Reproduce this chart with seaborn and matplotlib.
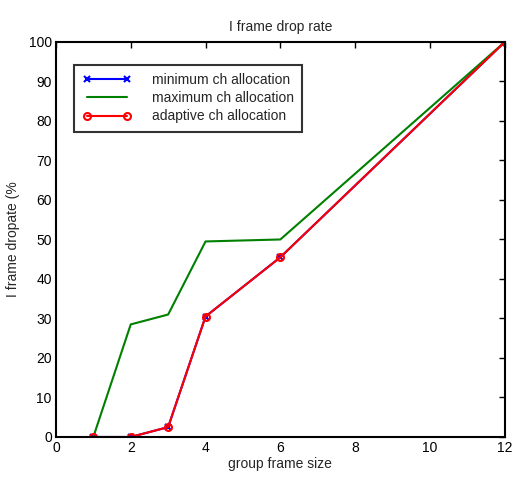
import pandas as pd
import matplotlib
matplotlib.use("Agg")
import matplotlib.pyplot as plt
import seaborn as sns

frame_size = [1, 2, 3, 4, 6, 12]
min_alloc = [0, 0, 2.5, 30.5, 45.5, 100]
max_alloc = [0, 28.5, 31, 49.5, 50, 100]
adaptive_alloc = [0, 0, 2.5, 30.5, 45.5, 100]

sns.set_style("white")
plt.rcParams["font.family"] = ["Liberation Sans", "DejaVu Sans"]

fig = plt.figure(figsize=(5.13, 4.8), dpi=100)
ax = fig.add_axes([0.109, 0.0896, 0.875, 0.823])

df_min = pd.DataFrame({"x": frame_size, "y": min_alloc})
df_max = pd.DataFrame({"x": frame_size, "y": max_alloc})
df_ad = pd.DataFrame({"x": frame_size, "y": adaptive_alloc})

sns.lineplot(data=df_min, x="x", y="y", ax=ax, color="blue", marker="x",
             markersize=4, markeredgewidth=1.5, markeredgecolor="blue",
             linewidth=1.5, label="minimum ch allocation")
sns.lineplot(data=df_max, x="x", y="y", ax=ax, color="green", linewidth=1.5,
             label="maximum ch allocation")
sns.lineplot(data=df_ad, x="x", y="y", ax=ax, color="red", marker="o",
             markersize=5, markerfacecolor="none", markeredgecolor="red",
             markeredgewidth=1.5, linewidth=1.5,
             label="adaptive ch allocation")

ax.set_xlim(0, 12)
ax.set_ylim(0, 100)
ax.set_xticks(range(0, 13, 2))
ax.set_yticks(range(0, 101, 10))
ax.tick_params(direction="in", length=4, width=1, top=True, right=True,
               labelsize=10, colors="black", pad=3)
for s in ax.spines.values():
    s.set_color("black")
    s.set_linewidth(1.5)

ax.set_title("I frame drop rate", fontsize=10, pad=8)
ax.set_xlabel("group frame size", fontsize=10, labelpad=1)
ax.set_ylabel("I frame dropate (%", fontsize=10, labelpad=6)

leg = ax.legend(loc="upper left", bbox_to_anchor=(0.025, 0.96), fontsize=10,
                frameon=True, fancybox=False, edgecolor="black", numpoints=2,
                handlelength=3.5, borderpad=0.6, labelspacing=0.3,
                handletextpad=1.5)
leg.get_frame().set_linewidth(1.5)

fig.savefig("out.png", dpi=100)
